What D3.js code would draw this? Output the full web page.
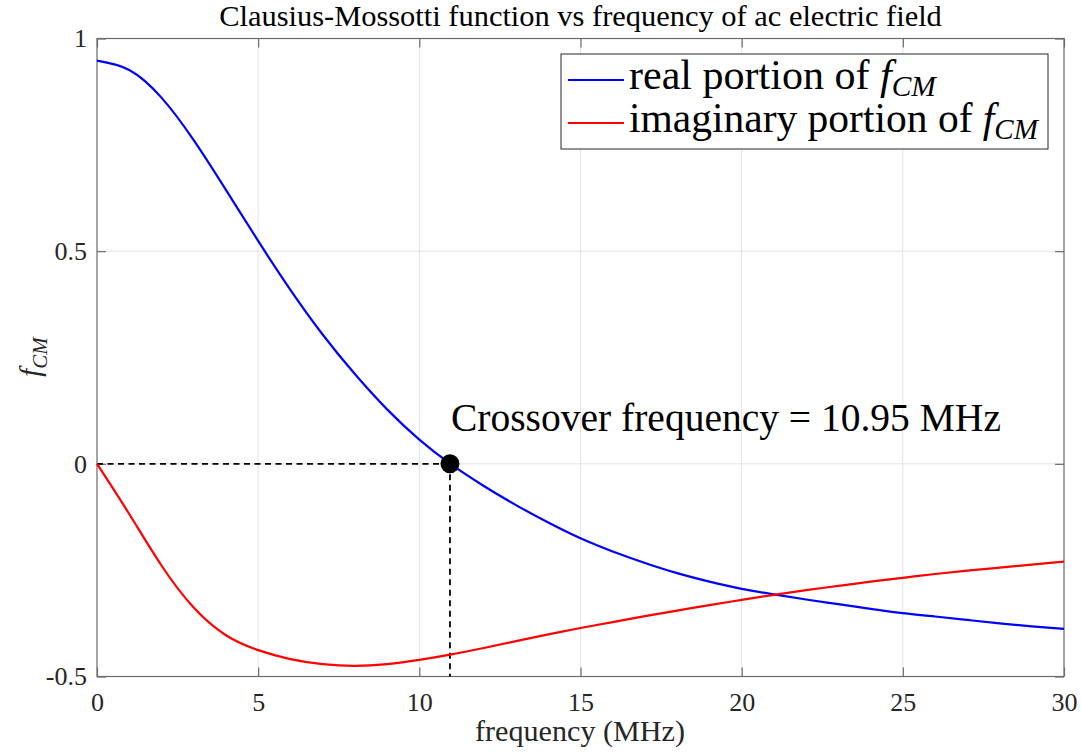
<!DOCTYPE html>
<html><head><meta charset="utf-8">
<script src="https://cdn.jsdelivr.net/npm/d3@7"></script>
<style>body{margin:0;background:#fff} svg text{font-family:"Liberation Serif","DejaVu Serif","Noto Serif",serif;}</style>
</head><body><svg id="c" width="1081" height="752"></svg>
<script>
// ---- data ----
const freqMHz  = [0,1,2,3,4,5,6,7,8,9,10,11,12,13,14,15,16,17,18,19,20,21,22,23,24,25,26,27,28,29,30];
const realPart = [0.948,0.926,0.861,0.761,0.644,0.524,0.409,0.304,0.211,0.128,0.057,-0.002,-0.052,-0.097,-0.138,-0.175,-0.206,-0.233,-0.257,-0.277,-0.294,-0.307,-0.319,-0.330,-0.341,-0.351,-0.359,-0.367,-0.375,-0.382,-0.388];
const imagPart = [0,-0.118,-0.239,-0.338,-0.403,-0.438,-0.459,-0.471,-0.475,-0.471,-0.461,-0.448,-0.433,-0.417,-0.401,-0.386,-0.372,-0.358,-0.345,-0.332,-0.320,-0.308,-0.297,-0.287,-0.277,-0.268,-0.259,-0.251,-0.244,-0.237,-0.230];
const xTicks = [0,5,10,15,20,25,30];
const xTickLabels = ["0","5","10","15","20","25","30"];
const yTicks = [-0.5,0,0.5,1];
const yTickLabels = ["-0.5","0","0.5","1"];
const crossoverFreq = 10.95;
const crossoverValue = 0;
const seriesNames = ["real portion of ","imaginary portion of "];
const seriesColors = ["#0000ff","#ff0000"];
const titleText = "Clausius-Mossotti function vs frequency of ac electric field";
const xLabelText = "frequency (MHz)";
const annotationText = "Crossover frequency = 10.95 MHz";

// ---- layout ----
const W = 1081, H = 752;
const L = 97, R = 1064, T = 38.5, B = 676.5;
const FONT = '"Liberation Serif","DejaVu Serif","Noto Serif",serif';
const svg = d3.select("#c");
svg.append("rect").attr("width",W).attr("height",H).attr("fill","#fff");

const x = d3.scaleLinear().domain([0,30]).range([L,R]);
const y = d3.scaleLinear().domain([-0.5,1]).range([B,T]);

function fitWidth(sel, target){
  const n = sel.node();
  const fs = parseFloat(sel.style("font-size"));
  const w = n.getComputedTextLength();
  sel.style("font-size", (fs*target/w)+"px");
}

// grid
const g = svg.append("g");
g.selectAll(".gx").data(xTicks.slice(1,-1)).join("line")
  .attr("x1",d=>x(d)).attr("x2",d=>x(d)).attr("y1",T).attr("y2",B)
  .attr("stroke","#e3e3e3").attr("stroke-width",1);
g.selectAll(".gy").data(yTicks.slice(1,-1)).join("line")
  .attr("y1",d=>y(d)).attr("y2",d=>y(d)).attr("x1",L).attr("x2",R)
  .attr("stroke","#e3e3e3").attr("stroke-width",1);

// axes
const tickLen = 9;
const fmtX = d=>xTickLabels[xTicks.indexOf(d)];
const fmtY = d=>yTickLabels[yTicks.indexOf(d)];
const axB = svg.append("g").attr("transform",`translate(0,${B})`)
  .call(d3.axisBottom(x).tickValues(xTicks).tickFormat(fmtX).tickSize(-tickLen).tickPadding(16));
const axT = svg.append("g").attr("transform",`translate(0,${T})`)
  .call(d3.axisTop(x).tickValues(xTicks).tickFormat(()=>"").tickSize(-tickLen));
const axLf = svg.append("g").attr("transform",`translate(${L},0)`)
  .call(d3.axisLeft(y).tickValues(yTicks).tickFormat(fmtY).tickSize(-tickLen).tickPadding(10));
const axRt = svg.append("g").attr("transform",`translate(${R},0)`)
  .call(d3.axisRight(y).tickValues(yTicks).tickFormat(()=>"").tickSize(-tickLen));
[axB,axT,axLf,axRt].forEach(a=>{
  a.attr("font-family",null).attr("font-size",null);
  a.select(".domain").remove();
  a.selectAll(".tick line").attr("stroke","#6b6b6b").attr("stroke-width",1.2);
  a.selectAll(".tick text").style("font-family",FONT).style("font-size","26px").attr("fill","#262626");
});
svg.append("rect").attr("x",L).attr("y",T).attr("width",R-L).attr("height",B-T)
  .attr("fill","none").attr("stroke","#6b6b6b").attr("stroke-width",1.2);

// dashed guides
svg.append("line").attr("x1",x(0)).attr("x2",x(crossoverFreq)).attr("y1",y(crossoverValue)).attr("y2",y(crossoverValue))
  .attr("stroke","#000").attr("stroke-width",1.8).attr("stroke-dasharray","6,4.5");
svg.append("line").attr("x1",x(crossoverFreq)).attr("x2",x(crossoverFreq)).attr("y1",y(crossoverValue)).attr("y2",y(-0.5))
  .attr("stroke","#000").attr("stroke-width",1.8).attr("stroke-dasharray","6,4.5");

// curves
const line = d3.line().x((d,i)=>x(freqMHz[i])).y(d=>y(d)).curve(d3.curveNatural);
[realPart, imagPart].forEach((s,k)=>{
  svg.append("path").attr("d",line(s)).attr("fill","none")
    .attr("stroke",seriesColors[k]).attr("stroke-width",2.2);
});

// crossover marker
svg.append("circle").attr("cx",x(crossoverFreq)).attr("cy",y(crossoverValue)).attr("r",9.5).attr("fill","#000");

// annotation
const ann = svg.append("text").attr("x",451).attr("y",431).style("font-family",FONT).style("font-size","36px").attr("fill","#000").text(annotationText);
fitWidth(ann,550);

// title
const title = svg.append("text").attr("x",580.5).attr("y",26).attr("text-anchor","middle")
  .style("font-family",FONT).style("font-size","24px").attr("fill","#000").text(titleText);
fitWidth(title,723);

// x label
const xl = svg.append("text").attr("x",580).attr("y",741).attr("text-anchor","middle")
  .style("font-family",FONT).style("font-size","23px").attr("fill","#262626").text(xLabelText);
fitWidth(xl,210);

// y label
const yl = svg.append("text").attr("transform","translate(40,357) rotate(-90)").attr("text-anchor","middle")
  .style("font-family",FONT).style("font-size","29px").attr("fill","#262626");
yl.append("tspan").style("font-style","italic").text("f");
yl.append("tspan").style("font-style","italic").style("font-size","0.72em").attr("dy","0.35em").text("CM");

// legend
const lg = svg.append("g");
lg.append("rect").attr("x",561).attr("y",54).attr("width",487).attr("height",95)
  .attr("fill","#fff").attr("stroke","#262626").attr("stroke-width",1);
const lgY = [80,123], lgBase = [89,132], lgW = [307,409];
seriesNames.forEach((nm,k)=>{
  lg.append("line").attr("x1",568).attr("x2",624).attr("y1",lgY[k]).attr("y2",lgY[k])
    .attr("stroke",seriesColors[k]).attr("stroke-width",2.2);
  const t = lg.append("text").attr("x",629).attr("y",lgBase[k]).style("font-family",FONT).style("font-size","32px").attr("fill","#000");
  t.append("tspan").text(nm);
  t.append("tspan").style("font-style","italic").text("f");
  t.append("tspan").style("font-style","italic").style("font-size","0.7em").attr("dy","0.25em").text("CM");
  fitWidth(t,lgW[k]);
});
</script></body></html>
